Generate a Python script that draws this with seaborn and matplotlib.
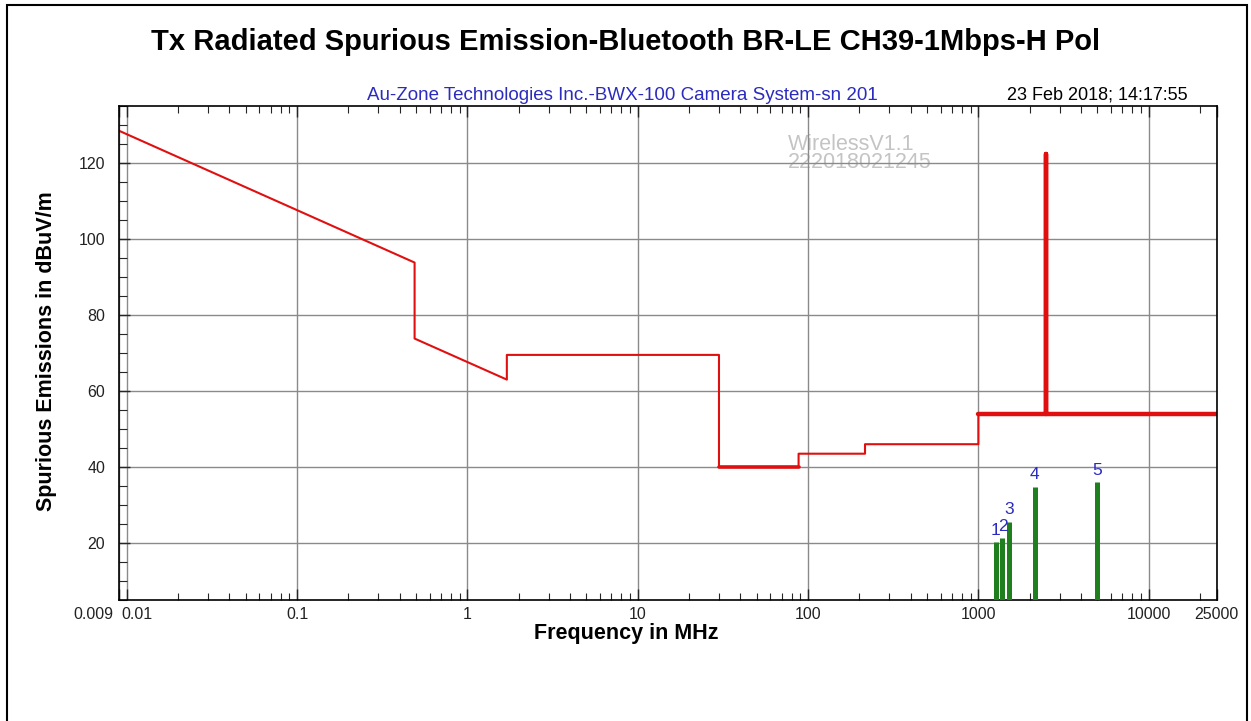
import matplotlib
matplotlib.use("Agg")
import matplotlib.pyplot as plt
import matplotlib.ticker as mticker
from matplotlib.patches import Rectangle
from matplotlib.transforms import ScaledTranslation
import seaborn as sns

# ---------------- data ----------------
limit_freq = [0.009, 0.49, 0.49, 1.705, 1.705, 30, 30, 88, 88, 216, 216, 1000, 1000, 25000]
limit_level = [128.5, 93.8, 73.8, 63.0, 69.5, 69.5, 40.0, 40.0, 43.5, 43.5, 46.0, 46.0, 54.0, 54.0]

low_freq = [30, 88]
low_level = [40.0, 40.0]

peak_freq = [1000, 2480, 2480, 2480, 25000]
peak_level = [54.0, 54.0, 122.4, 54.0, 54.0]

marker_freq = [1265, 1385, 1520, 2140, 4960]
marker_level = [20.3, 21.2, 25.6, 34.8, 36.0]
marker_labels = ["1", "2", "3", "4", "5"]

x_ticks = [0.009, 0.01, 0.1, 1, 10, 100, 1000, 10000, 25000]
x_tick_labels = ["0.009", "0.01", "0.1", "1", "10", "100", "1000", "10000", "25000"]
y_ticks = [20, 40, 60, 80, 100, 120]

title = "Tx Radiated Spurious Emission-Bluetooth BR-LE CH39-1Mbps-H Pol"
subtitle = "Au-Zone Technologies Inc.-BWX-100 Camera System-sn 201"
date_text = "23 Feb 2018; 14:17:55"
watermark = ["WirelessV1.1", "222018021245"]

# ---------------- style ----------------
sns.set_theme(style="white")
plt.rcParams["font.family"] = ["Liberation Sans", "DejaVu Sans"]

W, H = 1251, 721
fig = plt.figure(figsize=(W / 100, H / 100), dpi=100)
fig.patch.set_facecolor("white")

left, right, top, bottom = 118.9, 1216.5, 106, 600
ax = fig.add_axes([left / W, 1 - bottom / H, (right - left) / W, (bottom - top) / H])
ax.set_facecolor("white")
ax.set_axisbelow(True)

RED = "#e01010"
GREEN = "#1f7f1f"
BLUE = "#2b2bc0"

sns.lineplot(x=limit_freq, y=limit_level, sort=False, estimator=None,
             color=RED, linewidth=1.5, ax=ax)
sns.lineplot(x=low_freq, y=low_level, sort=False, estimator=None,
             color=RED, linewidth=2.6, ax=ax)
sns.lineplot(x=peak_freq, y=peak_level, sort=False, estimator=None,
             color=RED, linewidth=3.2, ax=ax)
ax.vlines(marker_freq, 5, marker_level, color=GREEN, linewidth=3.6, zorder=3)
for f, v, lab in zip(marker_freq, marker_level, marker_labels):
    ax.annotate(lab, (f, v), xytext=(0, 8.5), textcoords="offset points",
                ha="center", va="center", fontsize=12.5, color=BLUE)

ax.set_xscale("log")
ax.set_xlim(0.009, 25000)
ax.set_ylim(5, 135)
ax.set_xticks(x_ticks)
ax.set_xticklabels(x_tick_labels)
ax.xaxis.set_minor_locator(mticker.LogLocator(base=10, subs=range(2, 10), numticks=50))
ax.xaxis.set_minor_formatter(mticker.NullFormatter())
ax.set_yticks(y_ticks)
ax.yaxis.set_minor_locator(mticker.MultipleLocator(5))

ax.grid(True, which="major", color="#8a8a8a", linewidth=1.0)
ax.tick_params(axis="x", which="both", direction="in", top=True, bottom=True,
               labelsize=11.5, pad=5, labelcolor="#222222")
ax.tick_params(axis="x", which="major", length=8, width=1)
ax.tick_params(axis="x", which="minor", length=5, width=0.8)
ax.tick_params(axis="y", which="both", direction="in", left=True, right=False,
               labelsize=11.5, pad=10, labelcolor="#222222")
ax.tick_params(axis="y", which="major", length=8, width=1)
ax.tick_params(axis="y", which="minor", length=6, width=0.8)
for s in ax.spines.values():
    s.set_color("black")
    s.set_linewidth(1.2)
ax.set_xlabel("")
ax.set_ylabel("")

# separate the crowded first two x labels, as in the reference
xlabs = ax.get_xticklabels()
xlabs[0].set_horizontalalignment("right")
xlabs[0].set_transform(xlabs[0].get_transform() + ScaledTranslation(-4 / 72, 0, fig.dpi_scale_trans))
xlabs[1].set_horizontalalignment("left")
xlabs[1].set_transform(xlabs[1].get_transform() + ScaledTranslation(-4 / 72, 0, fig.dpi_scale_trans))

# watermark behind grid
ax.text(788 / W, 1 - 150 / H, watermark[0], transform=fig.transFigure,
        fontsize=15.5, color="#c4c4c4", ha="left", va="baseline", zorder=0.2)
ax.text(788 / W, 1 - 168 / H, watermark[1], transform=fig.transFigure,
        fontsize=15.5, color="#c4c4c4", ha="left", va="baseline", zorder=0.2)

# texts
fig.text(626 / W, 1 - 50 / H, title, ha="center", va="baseline",
         fontsize=21, fontweight="bold", color="black")
fig.text(622 / W, 1 - 100 / H, subtitle, ha="center", va="baseline",
         fontsize=13.5, color=BLUE)
fig.text(1188 / W, 1 - 100 / H, date_text, ha="right", va="baseline",
         fontsize=13, color="black")
fig.text(626 / W, 1 - 639 / H, "Frequency in MHz", ha="center", va="baseline",
         fontsize=15.5, fontweight="bold", color="black")
fig.text(47 / W, 1 - 351 / H, "Spurious Emissions in dBuV/m", ha="center", va="center",
         rotation=90, fontsize=15.5, fontweight="bold", color="black")

# outer frame
fig.add_artist(Rectangle((7 / W, -0.02), (1247 - 7) / W, (H - 5) / H + 0.02,
                         transform=fig.transFigure, fill=False,
                         edgecolor="black", linewidth=1.5))

fig.savefig("out.png", dpi=100, facecolor="white")
